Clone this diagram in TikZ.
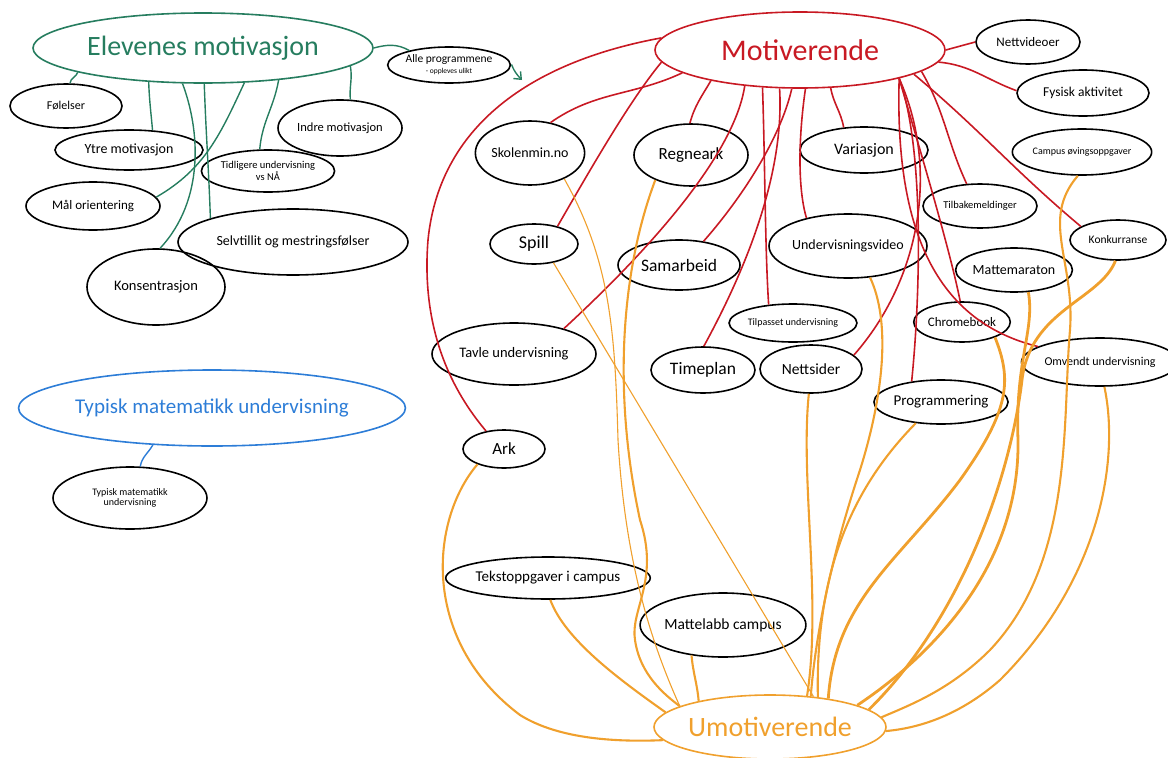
\documentclass[tikz,border=0pt]{standalone}
\usepackage{fontspec}
\setmainfont{Carlito}
\usetikzlibrary{shapes.geometric,arrows.meta}
\definecolor{gcol}{RGB}{38,125,95}
\definecolor{rcol}{RGB}{200,25,35}
\definecolor{ocol}{RGB}{240,160,45}
\definecolor{bcol}{RGB}{45,125,215}
\begin{document}
\begin{tikzpicture}[x=1pt,y=-1pt,
  ell/.style={ellipse,draw=black,line width=1.6pt,inner sep=0pt,text=black,align=center},
  sz/.style 2 args={minimum width=#1pt,minimum height=#2pt},
  fs/.style={font=\fontsize{#1}{#1}\selectfont},
  gl/.style={draw=gcol,line width=1.4pt},
  bl/.style={draw=bcol,line width=1.4pt},
  rl/.style={draw=rcol,line width=1.6pt},
  ol/.style={draw=ocol,line width=2.1pt},
  othin/.style={draw=ocol,line width=1.1pt},
  othick/.style={draw=ocol,line width=2.8pt}]
\useasboundingbox (0,0) rectangle (1168,758);

% green group
\node[ell,draw=gcol,text=gcol,sz={340}{70},fs=28] (gE) at (203,48) {Elevenes motivasjon};
\node[ell,sz={106}{36}] (gAlle) at (449,65) {{\fontsize{11.5}{11.5}\selectfont Alle programmene}\\[-1pt]{\fontsize{7.5}{7.5}\selectfont - oppleves ulikt}};
\node[ell,sz={112}{44},fs=12] (fol) at (66,106) {Følelser};
\node[ell,sz={148}{40},fs=14] (ytre) at (129,150) {Ytre motivasjon};
\node[ell,sz={134}{48},fs=13] (mal) at (93,206) {Mål orientering};
\node[ell,sz={138}{76},fs=14.5] (kons) at (156,287) {Konsentrasjon};
\node[ell,sz={230}{66},fs=14] (selv) at (293,242) {Selvtillit og mestringsfølser};
\node[ell,sz={130}{42},fs=10.5] (tidl) at (268,171) {Tidligere undervisning\\vs NÅ};
\node[ell,sz={124}{56},fs=12.5] (indre) at (340,128) {Indre motivasjon};

% blue group
\node[ell,draw=bcol,text=bcol,sz={376}{76},fs=21] (bT) at (212,408) {Typisk matematikk undervisning};
\node[ell,sz={154}{62},fs=10] (bt) at (130,498) {Typisk matematikk\\undervisning};

% red / orange group
\node[ell,draw=rcol,text=rcol,sz={290}{76},fs=30] (mot) at (800,50) {Motiverende};
\node[ell,sz={104}{44},fs=13] (nettv) at (1028,42) {Nettvideoer};
\node[ell,sz={132}{46},fs=13.5] (fys) at (1083,93) {Fysisk aktivitet};
\node[ell,sz={134}{46},fs=10] (camp) at (1082,152) {Campus øvingsoppgaver};
\node[ell,sz={106}{64},fs=14] (skol) at (530,153) {Skolenmin.no};
\node[ell,sz={114}{62},fs=17] (regn) at (691,155) {Regneark};
\node[ell,sz={128}{46},fs=16] (var) at (864,150) {Variasjon};
\node[ell,sz={114}{44},fs=10.5] (tilb) at (980,206) {Tilbakemeldinger};
\node[ell,sz={96}{40},fs=11.5] (konk) at (1118,240) {Konkurranse};
\node[ell,sz={156}{64},fs=14] (uvid) at (848,246) {Undervisningsvideo};
\node[ell,sz={116}{44},fs=14] (matm) at (1014,270) {Mattemaraton};
\node[ell,sz={88}{40},fs=18] (spill) at (534,244) {Spill};
\node[ell,sz={122}{50},fs=17.5] (sam) at (679,265) {Samarbeid};
\node[ell,sz={118}{38},fs=10] (tilp) at (793,323) {Tilpasset undervisning};
\node[ell,sz={90}{40},fs=13] (chrome) at (962,322) {Chromebook};
\node[ell,sz={134}{48},fs=12] (omv) at (1100,362) {Omvendt undervisning};
\node[ell,sz={164}{62},fs=14.5] (tavle) at (514,354) {Tavle undervisning};
\node[ell,sz={104}{46},fs=17.5] (time) at (703,370) {Timeplan};
\node[ell,sz={102}{48},fs=15.5] (netts) at (811,369) {Nettsider};
\node[ell,sz={128}{44},fs=15] (prog) at (941,402) {Programmering};
\node[ell,sz={82}{38},fs=17] (ark) at (504,449) {Ark};
\node[ell,sz={190}{42},fs=15] (tekst) at (548,578) {Tekstoppgaver i campus};
\node[ell,sz={152}{64},fs=15.5] (mlab) at (723,625) {Mattelabb campus};
\node[ell,draw=ocol,text=ocol,sz={232}{64},fs=28] (umot) at (770,727) {Umotiverende};

% green connectors
\draw[gl] (gE.-169) to[out=-110,in=85] (fol.80);
\draw[gl] (gE.-148) to[out=-88,in=95] (ytre.40);
\draw[gl] (gE.-120) .. controls (200,130) and (205,200) .. (kons.84);
\draw[gl] (gE.-88) to[out=-88,in=92] (selv.164);
\draw[gl] (gE.-40) to[out=-115,in=30] (mal.8);
\draw[gl] (gE.-23) to[out=-100,in=85] (tidl.111);
\draw[gl] (gE.-7) to[out=-80,in=95] (indre.70);
\draw[gl] (gE.east) to[out=15,in=150] (gAlle.160);
\coordinate (atip) at (522,80);
\draw[gl,-{Straight Barb[length=6pt,width=10pt]}] (gAlle.east) .. controls (512,63) and (512,70) .. (atip);

% blue connector
\draw[bl] (bT.-148) to[out=-120,in=80] (bt.72);

% red connectors
\draw[rl] (mot.175) .. controls (540,60) and (440,120) .. (428,240) .. controls (420,340) and (460,400) .. (ark.135);
\draw[rl] (mot.-175) .. controls (630,100) and (590,170) .. (spill.37);
\draw[rl] (mot.-169) to[out=-155,in=35] (skol.56);
\draw[rl] (mot.-161) to[out=-120,in=75] (regn.92);
\draw[rl] (mot.-147) .. controls (735,150) and (660,240) .. (tavle.27);
\draw[rl] (mot.-135) .. controls (765,160) and (765,250) .. (tilp.143);
\draw[rl] (mot.-118) .. controls (785,180) and (740,280) .. (time.88);
\draw[rl] (mot.-102) .. controls (780,140) and (740,200) .. (sam.44);
\draw[rl] (mot.-82) .. controls (798,140) and (798,190) .. (uvid.146);
\draw[rl] (mot.-51) to[out=-80,in=100] (var.132);
\draw[rl] (mot.-16) .. controls (895,220) and (930,320) .. (omv.166);
\draw[rl] (mot.-16) .. controls (940,170) and (920,280) .. (netts.18);
\draw[rl] (mot.-16) .. controls (925,150) and (920,300) .. (prog.145);
\draw[rl] (mot.-16) .. controls (920,150) and (950,250) .. (chrome.95);
\draw[rl] (mot.-10) to[out=-60,in=115] (tilb.121);
\draw[rl] (mot.-12) to[out=-40,in=140] (konk.160);
\draw[rl] (mot.-5) to[out=-5,in=160] (fys.178);
\draw[rl] (mot.east) -- (nettv.west);

% orange connectors
\draw[ol] (ark.-150) .. controls (430,520) and (420,640) .. (520,715) .. controls (560,740) and (620,742) .. (umot.-173);
\draw[ol] (tekst.-84) .. controls (565,640) and (620,680) .. (umot.172);
\draw[othin] (skol.-37) .. controls (610,260) and (615,330) .. (618,440) .. controls (625,560) and (650,640) .. (umot.167);
\draw[ol] (regn.-145) .. controls (625,260) and (610,380) .. (640,520) .. controls (660,580) and (630,610) .. (635,640) .. controls (640,675) and (665,695) .. (umot.167);
\draw[othin] (spill.-44) -- (umot.35);
\draw[ol] (mlab.-136) to[out=-85,in=95] (umot.160);
\draw[ol] (netts.-95) .. controls (800,480) and (822,600) .. (umot.40);
\draw[ol] (uvid.-55) .. controls (890,320) and (885,390) .. (860,470) .. controls (830,560) and (815,640) .. (umot.37);
\draw[ol] (prog.-140) .. controls (860,480) and (815,560) .. (umot.32);
\draw[othick] (chrome.-25) .. controls (1012,380) and (1010,410) .. (960,480) .. controls (900,560) and (835,600) .. (umot.26);
\draw[othick] (matm.-57) .. controls (1035,330) and (1015,360) .. (1018,440) .. controls (1020,560) and (940,650) .. (umot.14);
\draw[othick] (konk.-97) .. controls (1100,300) and (1030,310) .. (1022,380) .. controls (1010,480) and (960,620) .. (umot.10);
\draw[ol] (camp.-100) .. controls (1040,220) and (1075,260) .. (1070,330) .. controls (1062,420) and (1075,560) .. (990,650) .. controls (950,690) and (910,705) .. (umot.5);
\draw[ol] (omv.-80) .. controls (1120,460) and (1100,580) .. (1000,680) .. controls (960,715) and (920,728) .. (umot.-2);
\end{tikzpicture}
\end{document}
